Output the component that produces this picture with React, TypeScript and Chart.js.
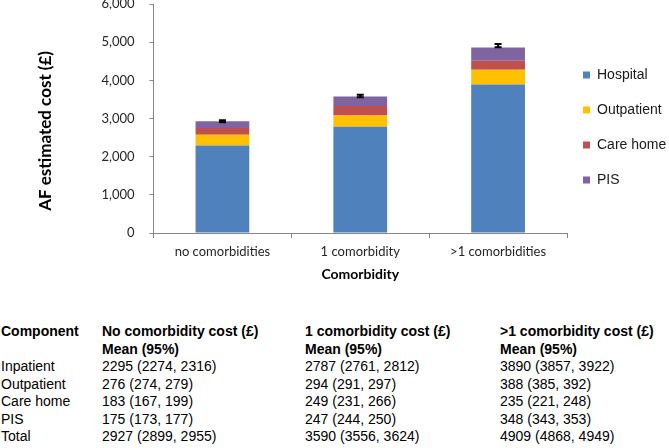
import React, { useEffect, useRef } from "react";
import { Chart, registerables } from "chart.js";

Chart.register(...registerables);

const categories = ["no comorbidities", "1 comorbidity", ">1 comorbidities"];
const hospital = [2295, 2787, 3890];
const outpatient = [276, 294, 388];
const careHome = [183, 249, 235];
const pis = [175, 247, 348];
const totalLow = [2899, 3556, 4868];
const totalHigh = [2955, 3624, 4949];

const tableHeader = ["Component", "No comorbidity cost (£)", "1 comorbidity cost (£)", ">1 comorbidity cost (£)"];
const tableSubHeader = ["", "Mean (95%)", "Mean (95%)", "Mean (95%)"];
const tableRows = [
  ["Inpatient", "2295 (2274, 2316)", "2787 (2761, 2812)", "3890 (3857, 3922)"],
  ["Outpatient", "276 (274, 279)", "294 (291, 297)", "388 (385, 392)"],
  ["Care home", "183 (167, 199)", "249 (231, 266)", "235 (221, 248)"],
  ["PIS", "175 (173, 177)", "247 (244, 250)", "348 (343, 353)"],
  ["Total", "2927 (2899, 2955)", "3590 (3556, 3624)", "4909 (4868, 4949)"],
];
const colX = [1, 102, 305, 500];

const errorBarPlugin = {
  id: "errorBars",
  afterLayout(chart: any) {
    if (chart.legend) {
      chart.legend.left -= 5;
    }
  },
  afterDatasetsDraw(chart: any) {
    const xs = chart.scales.x;
    const ys = chart.scales.y;
    const ctx = chart.ctx;
    ctx.save();
    ctx.strokeStyle = "#000";
    ctx.lineWidth = 2;
    for (let i = 0; i < categories.length; i++) {
      const x = xs.getPixelForValue(i);
      const yLo = ys.getPixelForValue(totalLow[i]);
      const yHi = ys.getPixelForValue(totalHigh[i]);
      ctx.beginPath();
      ctx.moveTo(x, yLo);
      ctx.lineTo(x, yHi);
      ctx.moveTo(x - 3.5, yLo);
      ctx.lineTo(x + 3.5, yLo);
      ctx.moveTo(x - 3.5, yHi);
      ctx.lineTo(x + 3.5, yHi);
      ctx.stroke();
    }
    ctx.restore();
  },
};

export default function App() {
  const ref = useRef<HTMLCanvasElement | null>(null);
  useEffect(() => {
    if (!ref.current) return;
    const mk = (label: string, data: number[], color: string) => ({
      label,
      data,
      backgroundColor: color,
      borderWidth: 0,
      categoryPercentage: 1,
      barPercentage: 0.39,
    });
    const chart = new Chart(ref.current, {
      type: "bar",
      data: {
        labels: categories,
        datasets: [
          mk("Hospital", hospital, "#4F81BD"),
          mk("Outpatient", outpatient, "#FFC000"),
          mk("Care home", careHome, "#C0504D"),
          mk("PIS", pis, "#8064A2"),
        ],
      },
      options: {
        animation: false,
        responsive: false,
        devicePixelRatio: 1,
        layout: { autoPadding: false, padding: { top: 4, left: 35, right: 0, bottom: 17.6 } },
        plugins: {
          tooltip: { enabled: false },
          legend: {
            position: "right",
            align: "start",
            maxWidth: 102,
            title: { display: true, text: " ", font: { size: 10, lineHeight: 1 }, padding: { top: 33, bottom: 0 } },
            labels: {
              boxWidth: 7,
              boxHeight: 7,
              padding: 21,
              color: "#1a1a1a",
              font: { family: "'Liberation Sans', Arial, sans-serif", size: 14 },
            },
          },
        },
        scales: {
          x: {
            stacked: true,
            grid: { drawOnChartArea: false, drawTicks: true, tickLength: 5, color: "#868686", offset: true },
            border: { color: "#868686", width: 1 },
            ticks: { padding: 6, color: "#262626", font: { family: "Lato, sans-serif", size: 13 }, maxRotation: 0 },
            title: {
              display: true,
              text: "Comorbidity",
              color: "#000",
              font: { family: "Lato, sans-serif", size: 14, weight: "bold" },
              padding: { top: 0, bottom: 0 },
            },
          },
          y: {
            stacked: true,
            min: 0,
            max: 6000,
            afterFit: (scale: any) => {
              scale.paddingTop = 0;
              scale.paddingBottom = 0;
            },
            grid: { drawOnChartArea: false, drawTicks: true, tickLength: 4, color: "#868686" },
            border: { color: "#868686", width: 1 },
            ticks: {
              stepSize: 1000,
              padding: 15,
              color: "#262626",
              font: { family: "Lato, sans-serif", size: 13 },
              callback: (v: any) => Number(v).toLocaleString("en-US"),
            },
            title: {
              display: true,
              text: "AF estimated cost (£)\u00A0\u00A0\u00A0\u00A0\u00A0\u00A0",
              color: "#000",
              font: { family: "Lato, sans-serif", size: 17, weight: "bold" },
              padding: { top: 0, bottom: 31 },
            },
          },
        },
      },
      plugins: [errorBarPlugin],
    });
    return () => chart.destroy();
  }, []);

  const rowTop = (r: number) => 332 - 8.75 + r * 17.5;
  const textStyle = (r: number, c: number, bold: boolean): React.CSSProperties => ({
    position: "absolute",
    left: colX[c],
    top: rowTop(r),
    height: 17.5,
    lineHeight: "17.5px",
    fontFamily: "'Liberation Sans', Arial, sans-serif",
    fontSize: 14,
    fontWeight: bold ? "bold" : "normal",
    color: "#000",
    whiteSpace: "nowrap",
  });

  return (
    <div style={{ position: "absolute", left: 0, top: 0, width: 669, height: 448, background: "#fff", overflow: "hidden" }}>
      <canvas ref={ref} width={669} height={300} style={{ position: "absolute", left: 0, top: 0, width: 669, height: 300 }} />
      {tableHeader.map((t, c) => (
        <div key={"h" + c} style={textStyle(0, c, true)}>{t}</div>
      ))}
      {tableSubHeader.map((t, c) => (
        <div key={"s" + c} style={textStyle(1, c, true)}>{t}</div>
      ))}
      {tableRows.map((row, r) =>
        row.map((t, c) => (
          <div key={r + "-" + c} style={textStyle(r + 2, c, false)}>{t}</div>
        ))
      )}
    </div>
  );
}
